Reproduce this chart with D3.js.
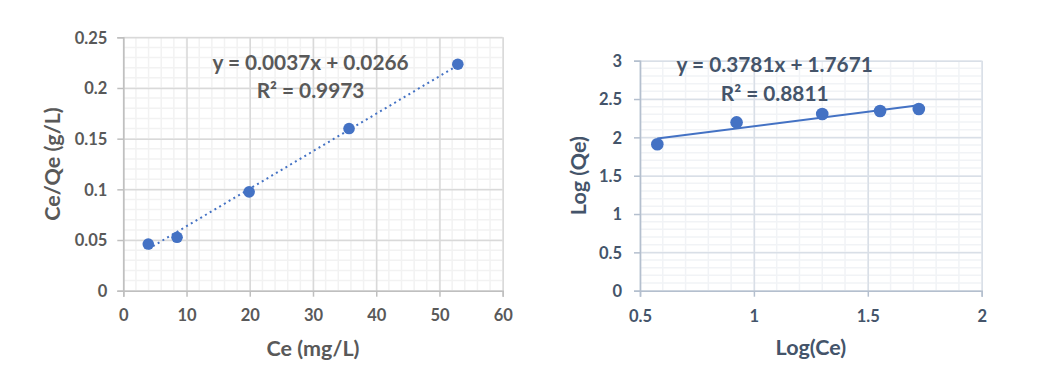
<!DOCTYPE html>
<html>
<head>
<meta charset="utf-8">
<script src="https://cdn.jsdelivr.net/npm/d3@7"></script>
<style>
  body { margin: 0; background: #fff; }
  svg { display: block; font-family: Lato, "Open Sans", sans-serif; font-weight: bold; }
</style>
</head>
<body>
<div id="chart"></div>
<script>
// Langmuir plot (left)
const ceValues = [3.95, 8.5, 19.9, 35.7, 52.9];
const ceQeValues = [0.046, 0.0527, 0.0975, 0.160, 0.2234];
const leftXTicks = [0, 10, 20, 30, 40, 50, 60];
const leftYTicks = [0, 0.05, 0.1, 0.15, 0.2, 0.25];
const leftTrend = { slope: 0.0037, intercept: 0.0266 };
const leftLabels = ['y = 0.0037x + 0.0266', 'R² = 0.9973'];

// Freundlich plot (right)
const logCeValues = [0.576, 0.924, 1.30, 1.554, 1.724];
const logQeValues = [1.91, 2.196, 2.305, 2.344, 2.37];
const rightXTicks = [0.5, 1, 1.5, 2];
const rightYTicks = [0, 0.5, 1, 1.5, 2, 2.5, 3];
const rightTrend = { slope: 0.3781, intercept: 1.7671 };
const rightLabels = ['y = 0.3781x + 1.7671', 'R² = 0.8811'];

const svg = d3.select('#chart')
    .append('svg')
    .attr('width', 1059)
    .attr('height', 387);

function drawPanel(opt) {
    const x = d3.scaleLinear().domain(opt.xDomain).range([opt.left, opt.right]);
    const y = d3.scaleLinear().domain(opt.yDomain).range([opt.bottom, opt.top]);
    const w = opt.right - opt.left;
    const h = opt.bottom - opt.top;
    const g = svg.append('g');

    // minor grid
    const xMinor = d3.range(opt.xDomain[0], opt.xDomain[1] + 1e-9, opt.xMinor);
    const yMinor = d3.range(opt.yDomain[0], opt.yDomain[1] + 1e-9, opt.yMinor);
    g.append('g')
        .selectAll('line.vx')
        .data(xMinor)
        .enter().append('line')
        .attr('x1', d => x(d)).attr('x2', d => x(d))
        .attr('y1', opt.top).attr('y2', opt.bottom)
        .attr('stroke', opt.minorColor).attr('stroke-width', 1.5);
    g.append('g')
        .selectAll('line.hy')
        .data(yMinor)
        .enter().append('line')
        .attr('x1', opt.left).attr('x2', opt.right)
        .attr('y1', d => y(d)).attr('y2', d => y(d))
        .attr('stroke', opt.minorColor).attr('stroke-width', 1.5);

    // major grid
    g.append('g')
        .attr('transform', `translate(0, ${opt.bottom})`)
        .call(d3.axisBottom(x).tickValues(opt.xTicks).tickSize(-h).tickFormat(''))
        .call(a => a.select('.domain').remove())
        .selectAll('line').attr('stroke', opt.majorColor).attr('stroke-width', 1.5);
    g.append('g')
        .attr('transform', `translate(${opt.left}, 0)`)
        .call(d3.axisLeft(y).tickValues(opt.yTicks).tickSize(-w).tickFormat(''))
        .call(a => a.select('.domain').remove())
        .selectAll('line').attr('stroke', opt.majorColor).attr('stroke-width', 1.5);

    // axes
    const xAxis = g.append('g')
        .attr('transform', `translate(0, ${opt.bottom})`)
        .call(d3.axisBottom(x).tickValues(opt.xTicks).tickSizeOuter(0).tickSize(6).tickFormat(d => String(d)));
    const yAxis = g.append('g')
        .attr('transform', `translate(${opt.left}, 0)`)
        .call(d3.axisLeft(y).tickValues(opt.yTicks).tickSizeOuter(0).tickSize(6).tickFormat(d => String(d)));
    [xAxis, yAxis].forEach(a => {
        a.select('.domain').attr('stroke', opt.axisColor).attr('stroke-width', 1.5);
        a.selectAll('line').attr('stroke', opt.axisColor).attr('stroke-width', 1.5);
        a.selectAll('text')
            .attr('fill', opt.textColor)
            .attr('font-family', 'Lato, sans-serif')
            .attr('font-weight', 'bold')
            .attr('font-size', opt.tickFont);
    });
    xAxis.selectAll('text').attr('y', opt.xLabelOffset).attr('dy', '0.35em');
    yAxis.selectAll('text').attr('x', -opt.yLabelOffset).attr('dy', '0.35em');

    // axis titles
    g.append('text')
        .attr('x', (opt.left + opt.right) / 2)
        .attr('y', opt.xTitleY)
        .attr('text-anchor', 'middle')
        .attr('dy', '0.35em')
        .attr('fill', opt.textColor)
        .attr('font-size', opt.titleFont)
        .text(opt.xTitle);
    g.append('text')
        .attr('transform', `translate(${opt.yTitleX}, ${(opt.top + opt.bottom) / 2}) rotate(-90)`)
        .attr('text-anchor', 'middle')
        .attr('dy', '0.35em')
        .attr('fill', opt.textColor)
        .attr('font-size', opt.titleFont)
        .text(opt.yTitle);

    // trendline
    const x0 = d3.min(opt.xs), x1 = d3.max(opt.xs);
    g.append('line')
        .attr('x1', x(x0)).attr('y1', y(opt.trend.slope * x0 + opt.trend.intercept))
        .attr('x2', x(x1)).attr('y2', y(opt.trend.slope * x1 + opt.trend.intercept))
        .attr('stroke', '#4472c4')
        .attr('stroke-width', 2)
        .attr('stroke-dasharray', opt.dotted ? '2,3.5' : null);

    // points
    g.selectAll('circle')
        .data(opt.xs.map((d, i) => [d, opt.ys[i]]))
        .enter().append('circle')
        .attr('cx', d => x(d[0]))
        .attr('cy', d => y(d[1]))
        .attr('r', opt.markerR)
        .attr('fill', '#4472c4');

    // equation labels
    opt.labels.forEach((t, i) => {
        g.append('text')
            .attr('x', opt.labelX)
            .attr('y', opt.labelY[i])
            .attr('text-anchor', 'middle')
            .attr('dy', '0.35em')
            .attr('fill', opt.textColor)
            .attr('font-size', opt.eqFont)
            .text(t);
    });
}

drawPanel({
    left: 123.3, right: 502.7, top: 37.3, bottom: 290.7,
    xDomain: [0, 60], yDomain: [0, 0.25], xTicks: leftXTicks, yTicks: leftYTicks,
    xMinor: 2, yMinor: 0.01,
    xs: ceValues, ys: ceQeValues, trend: leftTrend, dotted: true, labels: leftLabels,
    labelX: 310.5, labelY: [63, 90.5],
    xTitle: 'Ce (mg/L)', yTitle: 'Ce/Qe (g/L)', xTitleY: 348, yTitleX: 52,
    xLabelOffset: 25, yLabelOffset: 16, markerR: 5.8,
    textColor: '#595959', axisColor: '#bfbfbf', majorColor: '#d9d9d9', minorColor: '#f2f2f2',
    tickFont: 16.5, titleFont: 21.5, eqFont: 20.8
});

drawPanel({
    left: 640, right: 981.7, top: 60.7, bottom: 290.7,
    xDomain: [0.5, 2], yDomain: [0, 3], xTicks: rightXTicks, yTicks: rightYTicks,
    xMinor: 0.1, yMinor: 0.1,
    xs: logCeValues, ys: logQeValues, trend: rightTrend, dotted: false, labels: rightLabels,
    labelX: 774.7, labelY: [65, 94],
    xTitle: 'Log(Ce)', yTitle: 'Log (Qe)', xTitleY: 347, yTitleX: 578,
    xLabelOffset: 26, yLabelOffset: 18, markerR: 6.3,
    textColor: '#44546a', axisColor: '#b4bfce', majorColor: '#d9dfe7', minorColor: '#f1f3f6',
    tickFont: 16.5, titleFont: 21.5, eqFont: 20.8
});
</script>
</body>
</html>
